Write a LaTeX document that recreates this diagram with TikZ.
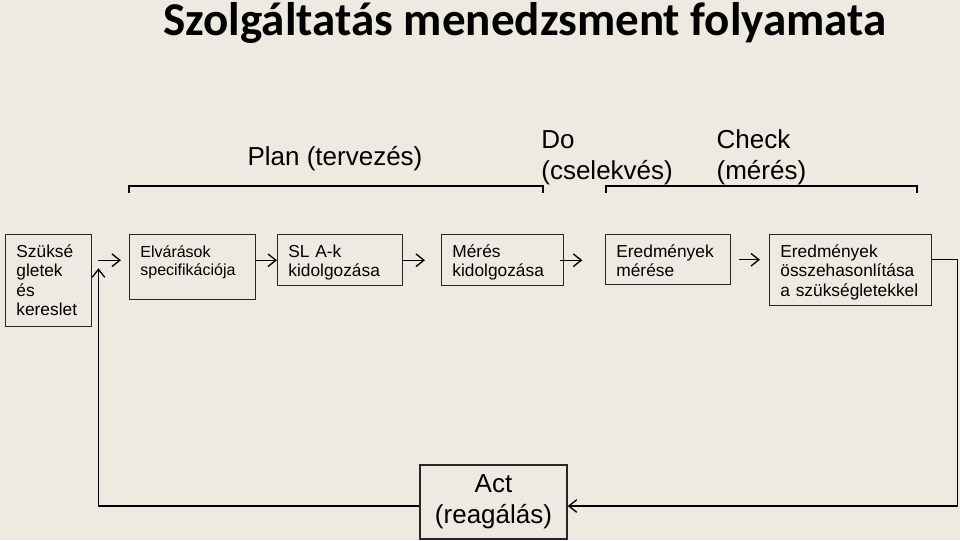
\documentclass[tikz,border=0pt]{standalone}
\usepackage{fontspec}
\setmainfont{Liberation Sans}
\newfontfamily\titlefont{Carlito}
\usetikzlibrary{arrows.meta,positioning}
\definecolor{paper}{RGB}{237,234,225}

\begin{document}
\begin{tikzpicture}[x=0.75pt,y=-0.75pt,>={Straight Barb[length=6pt,width=9.5pt]},
                    line width=1pt,
                    box/.style={draw=black!85,line width=1.1pt,anchor=north west,align=left,inner xsep=8pt,
                                inner ysep=3pt,text height=14pt,font=\fontsize{13}{14.6}\selectfont},
                    phase/.style={anchor=base west,align=left,inner sep=0pt,
                                  font=\fontsize{19.5}{23}\selectfont}]

        \fill[paper] (0,0) rectangle (960,540);
        \useasboundingbox (0,0) rectangle (960,540);

        \node[anchor=base,font=\titlefont\bfseries\fontsize{35.3}{40}\selectfont] (title) at (525,35)
             {Szolgáltatás menedzsment folyamata};

        % phases
        \node[phase,anchor=base] (plan) at (335,165) {Plan (tervezés)};
        \node[phase] (do) at (540.7,179.3) {Do\\(cselekvés)};
        \node[phase] (check) at (716,179.3) {Check\\(mérés)};

        \draw (129,193) -- (129,186) -- (543,186) -- (543,193);
        \draw (606,193) -- (606,186) -- (917,186) -- (917,193);

        % steps
        \node[box,text width=48.5pt,text depth=49pt] (sz) at (5,234) {Szüksé\\gletek\\és\\kereslet};
        \node[box,text width=78.5pt,text depth=28.75pt,font=\fontsize{12}{13.3}\selectfont] (elv) at (129,234)
             {Elvárások\\specifikációja};
        \node[box,text width=77.75pt,text depth=18.25pt] (sla) at (277,234) {SL A-k\\kidolgozása};
        \node[box,text width=75.5pt,text depth=18.25pt] (mer) at (441,234) {Mérés\\kidolgozása};
        \node[box,text width=77.75pt,text depth=17.5pt] (ered) at (605,234) {Eredmények\\mérése};
        \node[box,text width=105.5pt,text depth=33.25pt] (osz) at (769,234)
             {Eredmények\\összehasonlítása\\a szükségletekkel};

        \node[draw=black!85,line width=1.1pt,align=center,minimum width=110.25pt,minimum height=55.5pt,
              inner sep=0pt,font=\fontsize{19.5}{23}\selectfont] (act) at (493.5,502) {Act\\(reagálás)};

        \coordinate (in) at ([xshift=4.5pt]sz.east |- sla.west);

        \draw[->,shorten >=6pt] (in) -- (elv.west |- in);
        \draw[->] (elv.east |- sla.west) -- (sla.west);
        \draw[->,shorten >=12pt] (sla) -- (mer);
        \draw[->,shorten <=-3pt,shorten >=17pt] (mer.east) -- (ered.west |- mer.east);
        \draw[->,shorten <=6pt,shorten >=6.75pt] (ered.east) -- (osz.west |- ered.east);

        % feedback loop
        \draw[->] (osz.east |- ered.east) -- ++(25,0) |- ([yshift=-3pt]act.east);
        \draw[->] ([yshift=-3pt]act.west) -| ([yshift=-6pt]in);
\end{tikzpicture}
\end{document}
